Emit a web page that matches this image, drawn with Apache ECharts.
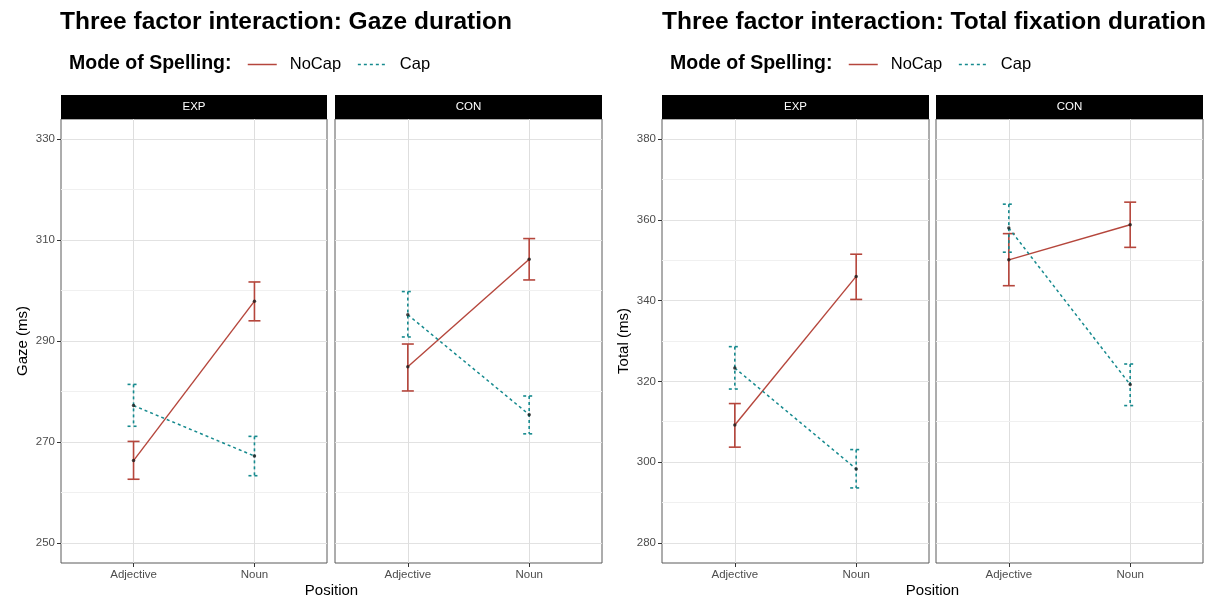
<!DOCTYPE html>
<html>
<head>
<meta charset="utf-8">
<script src="https://cdn.jsdelivr.net/npm/echarts@6/dist/echarts.min.js"></script>
<style>
  html, body { margin: 0; padding: 0; background: #fff; }
  #chart { width: 1208px; height: 599px; }
</style>
</head>
<body>
<div id="chart"></div>
<script>
// ---- data -------------------------------------------------------------
const positions = ['Adjective', 'Noun'];
const modes = ['NoCap', 'Cap'];
const conditions = ['EXP', 'CON'];

const gazeTicks = [250, 270, 290, 310, 330];
const gazeMinor = [260, 280, 300, 320];
const totalTicks = [280, 300, 320, 340, 360, 380];
const totalMinor = [290, 310, 330, 350, 370];

// Gaze duration (ms): means and confidence bounds, Adjective / Noun
const gazeExpNoCapMean = [266.3, 297.9];
const gazeExpNoCapLow  = [262.6, 294.0];
const gazeExpNoCapHigh = [270.1, 301.7];
const gazeExpCapMean   = [277.2, 267.2];
const gazeExpCapLow    = [273.1, 263.3];
const gazeExpCapHigh   = [281.4, 271.1];
const gazeConNoCapMean = [284.9, 306.2];
const gazeConNoCapLow  = [280.1, 302.1];
const gazeConNoCapHigh = [289.4, 310.3];
const gazeConCapMean   = [295.2, 275.4];
const gazeConCapLow    = [290.8, 271.6];
const gazeConCapHigh   = [299.8, 279.1];

// Total fixation duration (ms): means and confidence bounds, Adjective / Noun
const totalExpNoCapMean = [309.2, 346.0];
const totalExpNoCapLow  = [303.7, 340.3];
const totalExpNoCapHigh = [314.5, 351.5];
const totalExpCapMean   = [323.3, 298.3];
const totalExpCapLow    = [318.1, 293.6];
const totalExpCapHigh   = [328.6, 303.1];
const totalConNoCapMean = [350.1, 358.8];
const totalConNoCapLow  = [343.7, 353.2];
const totalConNoCapHigh = [356.6, 364.4];
const totalConCapMean   = [358.0, 319.2];
const totalConCapLow    = [352.0, 314.0];
const totalConCapHigh   = [363.9, 324.3];

// ---- styling ----------------------------------------------------------
const FONT = '"Liberation Sans", Arial, Helvetica, sans-serif';
const RED = '#B5463C';
const TEAL = '#168A8E';
const CAP_DASH = [3, 3];

// panel layout: [left, width] of each facet panel
const panelBox = [[61, 266], [335, 267], [662, 267], [936, 267]];
const PANEL_TOP = 119, PANEL_H = 444, STRIP_H = 24;

const panels = [
  { label: conditions[0], ticks: gazeTicks, minor: gazeMinor, min: 246, max: 334, yName: 'Gaze (ms)',
    noCap: [gazeExpNoCapMean, gazeExpNoCapLow, gazeExpNoCapHigh],
    cap: [gazeExpCapMean, gazeExpCapLow, gazeExpCapHigh] },
  { label: conditions[1], ticks: gazeTicks, minor: gazeMinor, min: 246, max: 334, yName: '',
    noCap: [gazeConNoCapMean, gazeConNoCapLow, gazeConNoCapHigh],
    cap: [gazeConCapMean, gazeConCapLow, gazeConCapHigh] },
  { label: conditions[0], ticks: totalTicks, minor: totalMinor, min: 275, max: 385, yName: 'Total (ms)',
    noCap: [totalExpNoCapMean, totalExpNoCapLow, totalExpNoCapHigh],
    cap: [totalExpCapMean, totalExpCapLow, totalExpCapHigh] },
  { label: conditions[1], ticks: totalTicks, minor: totalMinor, min: 275, max: 385, yName: '',
    noCap: [totalConNoCapMean, totalConNoCapLow, totalConNoCapHigh],
    cap: [totalConCapMean, totalConCapLow, totalConCapHigh] }
];

const grids = [], xAxes = [], yAxes = [], series = [], graphics = [];

function errorBarSeries(i, name, color, dash, mean, low, high) {
  return {
    type: 'custom', name: name + ' interval', xAxisIndex: i, yAxisIndex: i, z: 3, silent: true,
    data: mean.map((m, k) => [k + 1, low[k], high[k]]),
    renderItem(params, api) {
      const x = api.value(0);
      const top = api.coord([x, api.value(2)]);
      const bot = api.coord([x, api.value(1)]);
      const half = 6;
      const style = { stroke: color, lineWidth: 1.6, lineDash: dash, fill: null };
      return {
        type: 'group',
        children: [
          { type: 'line', shape: { x1: top[0], y1: top[1], x2: bot[0], y2: bot[1] }, style },
          { type: 'line', shape: { x1: top[0] - half, y1: top[1], x2: top[0] + half, y2: top[1] }, style },
          { type: 'line', shape: { x1: bot[0] - half, y1: bot[1], x2: bot[0] + half, y2: bot[1] }, style }
        ]
      };
    }
  };
}

panels.forEach((p, i) => {
  const [left, width] = panelBox[i];
  const first = i % 2 === 0;
  grids.push({ left, top: PANEL_TOP, width, height: PANEL_H, show: true,
    borderColor: '#5a5a5a', borderWidth: 1, backgroundColor: 'transparent', containLabel: false });

  xAxes.push({
    type: 'value', gridIndex: i, min: 0.4, max: 2.6,
    axisLine: { show: false },
    axisTick: { show: true, length: 4, customValues: [1, 2], lineStyle: { color: '#333' } },
    axisLabel: { customValues: [1, 2], formatter: v => positions[Math.round(v) - 1],
      color: '#4d4d4d', fontSize: 11.5, fontFamily: FONT, margin: 6 },
    splitLine: { show: true, lineStyle: { color: '#dedede', width: 1 } }
  });

  yAxes.push({
    type: 'value', gridIndex: i, min: p.min, max: p.max,
    axisLine: { show: false },
    axisTick: { show: first, length: 4, customValues: p.ticks, lineStyle: { color: '#333' } },
    axisLabel: { show: first, customValues: p.ticks, color: '#4d4d4d', fontSize: 11.5,
      fontFamily: FONT, margin: 6 },
    splitLine: { show: true, lineStyle: { color: '#e2e2e2', width: 1 } },
    name: p.yName, nameLocation: 'middle', nameGap: 31,
    nameTextStyle: { color: '#000', fontSize: 15, fontFamily: FONT }
  });

  // minor horizontal grid lines
  series.push({
    type: 'line', name: 'grid' + i, xAxisIndex: i, yAxisIndex: i, data: [], silent: true, z: 1,
    markLine: { silent: true, symbol: 'none', z: 1, animation: false,
      label: { show: false }, emphasis: { disabled: true },
      lineStyle: { color: '#f0f0f0', width: 1, type: 'solid' },
      data: p.minor.map(v => ({ yAxis: v })) }
  });

  const [nm, nl, nh] = p.noCap;
  const [cm, cl, ch] = p.cap;
  series.push({
    type: 'line', name: modes[0], xAxisIndex: i, yAxisIndex: i, z: 4, silent: true,
    symbol: 'none', data: nm.map((v, k) => [k + 1, v]),
    lineStyle: { color: RED, width: 1.4 }, itemStyle: { color: RED }
  });
  series.push({
    type: 'line', name: modes[1], xAxisIndex: i, yAxisIndex: i, z: 4, silent: true,
    symbol: 'none', data: cm.map((v, k) => [k + 1, v]),
    lineStyle: { color: TEAL, width: 1.5, type: CAP_DASH }, itemStyle: { color: TEAL }
  });
  series.push(errorBarSeries(i, modes[0], RED, null, nm, nl, nh));
  series.push(errorBarSeries(i, modes[1], TEAL, CAP_DASH, cm, cl, ch));
  series.push({
    type: 'scatter', name: 'means' + i, xAxisIndex: i, yAxisIndex: i, z: 5, silent: true,
    symbolSize: 3.5, itemStyle: { color: '#1a1a1a' },
    data: nm.map((v, k) => [k + 1, v]).concat(cm.map((v, k) => [k + 1, v]))
  });

  // facet strip
  graphics.push({ type: 'rect', shape: { x: left, y: PANEL_TOP - STRIP_H, width, height: STRIP_H },
    style: { fill: '#000' }, silent: true });
  graphics.push({ type: 'text', x: left + width / 2, y: PANEL_TOP - STRIP_H / 2, silent: true,
    style: { text: p.label, fill: '#fff', font: '11.5px ' + FONT, align: 'center', verticalAlign: 'middle' } });
});

// shared x-axis titles
[[331.5], [932.5]].forEach(([cx]) => {
  graphics.push({ type: 'text', x: cx, y: 591, silent: true,
    style: { text: 'Position', fill: '#000', font: '15px ' + FONT, align: 'center', verticalAlign: 'middle' } });
});

const titleStyle = { fontSize: 24.5, fontWeight: 'bold', color: '#000', fontFamily: FONT };
const legendTitleStyle = { fontSize: 19.5, fontWeight: 'bold', color: '#000', fontFamily: FONT };

const legendBase = {
  data: modes, top: 56, orient: 'horizontal', itemWidth: 29, itemHeight: 14, itemGap: 16,
  selectedMode: false, padding: 0,
  itemStyle: { opacity: 0, color: 'rgba(0,0,0,0)', borderWidth: 0 },
  lineStyle: { width: 1.5 },
  textStyle: { fontSize: 16.5, color: '#000', fontFamily: FONT, padding: [0, 0, 0, 8] }
};

const option = {
  animation: false,
  backgroundColor: '#fff',
  title: [
    { text: 'Three factor interaction: Gaze duration', left: 60, top: 10, padding: 0, textStyle: titleStyle },
    { text: 'Three factor interaction: Total fixation duration', left: 662, top: 10, padding: 0, textStyle: titleStyle },
    { text: 'Mode of Spelling:', left: 69, top: 54, padding: 0, textStyle: legendTitleStyle },
    { text: 'Mode of Spelling:', left: 670, top: 54, padding: 0, textStyle: legendTitleStyle }
  ],
  legend: [
    Object.assign({}, legendBase, { left: 247 }),
    Object.assign({}, legendBase, { left: 848 })
  ],
  grid: grids,
  xAxis: xAxes,
  yAxis: yAxes,
  series,
  graphic: graphics
};

const chart = echarts.init(document.getElementById('chart'), null, { renderer: 'canvas' });
chart.setOption(option);
</script>
</body>
</html>
